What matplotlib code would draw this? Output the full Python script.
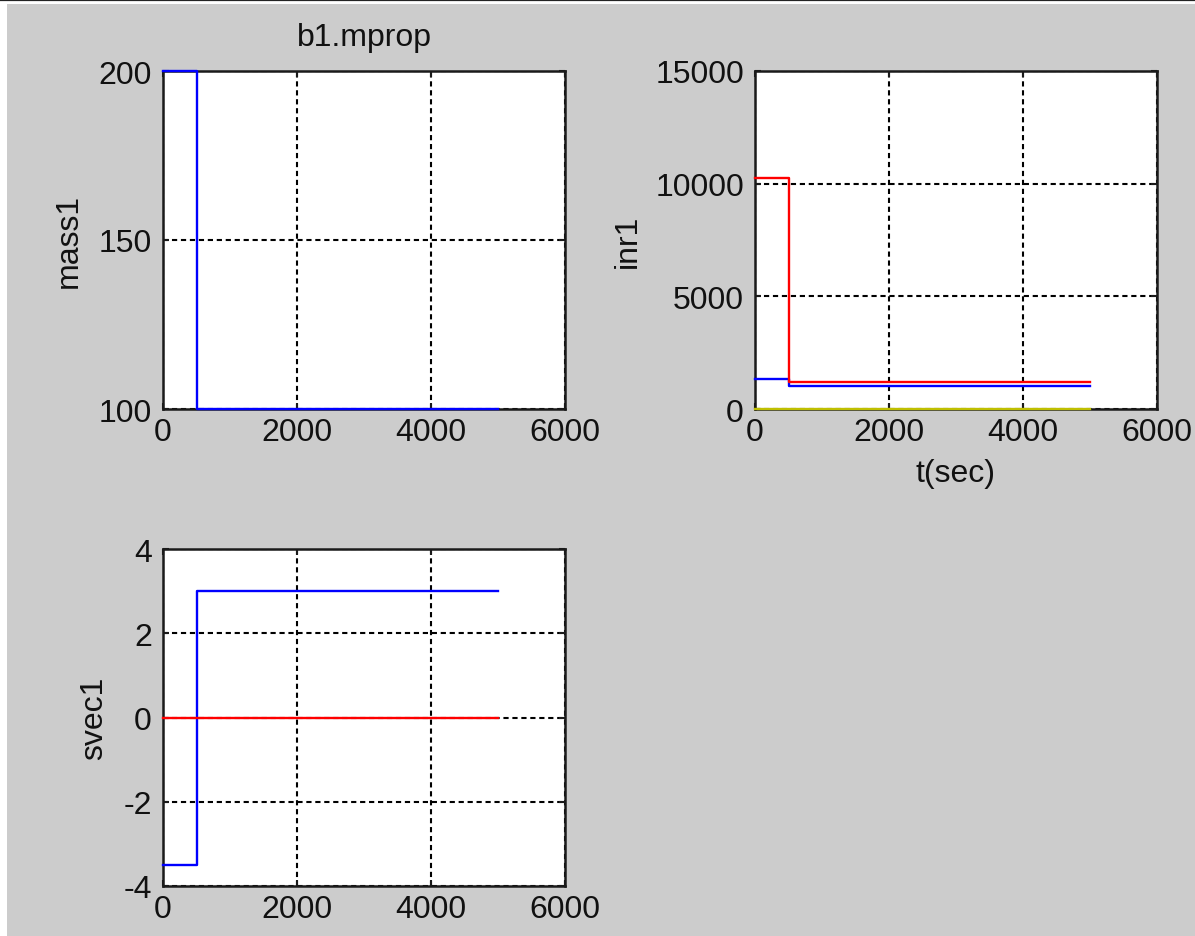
import numpy as np
import matplotlib
matplotlib.use("Agg")
import matplotlib.pyplot as plt
from matplotlib.patches import Rectangle
from matplotlib.lines import Line2D

plt.rcParams["font.family"] = ["Liberation Sans Narrow", "Liberation Sans", "DejaVu Sans"]
plt.rcParams["font.size"] = 23
plt.rcParams["axes.unicode_minus"] = False

# data (step changes at t = 500 s)
t = [0, 500, 5000]
mass1 = [200, 100, 100]
inr1_blue = [1340, 1040, 1040]
inr1_red = [10250, 1220, 1220]
inr1_yellow = [0, 0, 0]
svec1_blue = [-3.5, 3, 3]
svec1_red = [0, 0, 0]

x_ticks = [0, 2000, 4000, 6000]
mass_ticks = [100, 150, 200]
inr_ticks = [0, 5000, 10000, 15000]
svec_ticks = [-4, -2, 0, 2, 4]

BG = "#cccccc"
BLUE = "#0000ff"
RED = "#ff0000"
YELLOW = "#bfbf00"

W, H = 1195, 937
fig = plt.figure(figsize=(W / 100, H / 100), dpi=100, facecolor="white")

# grey window area + black line on top
fig.add_artist(Rectangle((7 / W, 0), 1, 1 - 5 / H, transform=fig.transFigure,
                         facecolor=BG, edgecolor="none", zorder=-10))
fig.add_artist(Line2D([0, 1], [1 - 1 / H, 1 - 1 / H], transform=fig.transFigure,
                      color="#222222", lw=1.6))


def make_axes(left, top, right, bottom):
    ax = fig.add_axes([left / W, 1 - bottom / H, (right - left) / W, (bottom - top) / H])
    ax.set_facecolor("white")
    for sp in ax.spines.values():
        sp.set_linewidth(1.8)
        sp.set_color("#1a1a1a")
    ax.grid(True, color="black", linestyle=(0, (2.5, 1.8)), linewidth=1.5)
    ax.tick_params(direction="in", length=4, width=1.5, top=True, right=True,
                   colors="#1a1a1a", labelcolor="#111111")
    ax.tick_params(axis="y", pad=8)
    ax.tick_params(axis="x", pad=6)
    ax.set_xlim(0, 6000)
    ax.set_xticks(x_ticks)
    ax.set_axisbelow(True)
    return ax


def step_line(ax, y, color, z=3):
    ax.step(t, y, where="post", color=color, lw=1.7, clip_on=False, zorder=z)


# top left: mass
ax1 = make_axes(163, 72, 565, 410)
step_line(ax1, mass1, BLUE)
ax1.set_ylim(100, 200)
ax1.set_yticks(mass_ticks)
ax1.set_title("b1.mprop", fontsize=23, pad=19, color="#111111")
ax1.set_ylabel("mass1", color="#111111")
ax1.yaxis.set_label_coords(-0.196, 0.5)

# top right: inertia
ax2 = make_axes(755, 72, 1157, 410)
step_line(ax2, inr1_blue, BLUE)
step_line(ax2, inr1_red, RED)
step_line(ax2, inr1_yellow, YELLOW, z=4)
ax2.set_ylim(0, 15000)
ax2.set_yticks(inr_ticks)
ax2.set_ylabel("inr1", color="#111111")
ax2.yaxis.set_label_coords(-0.279, 0.5)
ax2.set_xlabel("t(sec)", labelpad=8, color="#111111")

# bottom left: svec
ax3 = make_axes(163, 550, 565, 887)
step_line(ax3, svec1_blue, BLUE)
step_line(ax3, svec1_red, RED)
ax3.set_ylim(-4, 4)
ax3.set_yticks(svec_ticks)
ax3.set_ylabel("svec1", color="#111111")
ax3.yaxis.set_label_coords(-0.134, 0.5)

fig.savefig("out.png", dpi=100, facecolor=fig.get_facecolor())
